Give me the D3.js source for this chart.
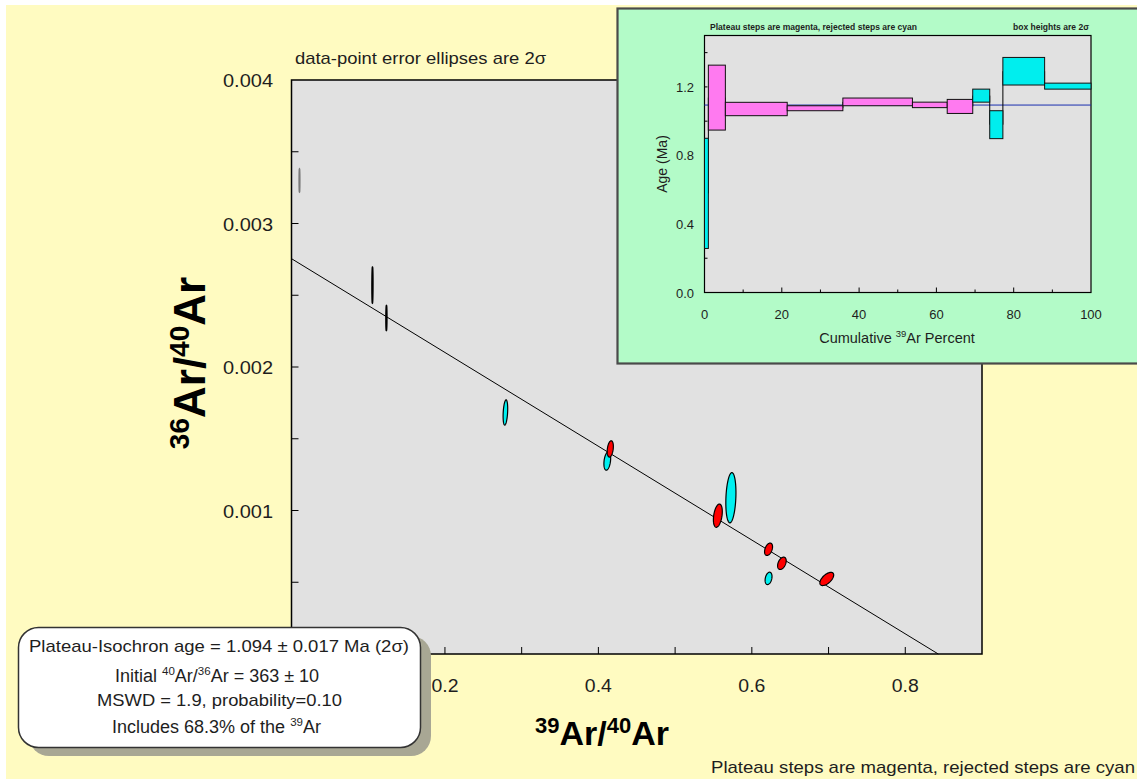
<!DOCTYPE html>
<html><head><meta charset="utf-8">
<script src="https://cdn.jsdelivr.net/npm/d3@7"></script>
<style>
html,body{margin:0;padding:0;background:#fff;}
svg text{font-family:Arial,"Liberation Sans",sans-serif;}
</style></head>
<body>
<svg id="c" width="1137" height="779"></svg>
<script>
// ---------- Isochron data (39Ar/40Ar, 36Ar/40Ar, 2σ half-widths, error correlation, status) ----------
const ptX    = [0.0104, 0.1055, 0.1237, 0.2788, 0.4116, 0.4155, 0.5557, 0.5727, 0.6218, 0.6392, 0.6218, 0.6977];
const ptY    = [0.00330, 0.002571, 0.002341, 0.001683, 0.001345, 0.001429, 0.000964, 0.001089, 0.000730, 0.000632, 0.000527, 0.000523];
const ptSx   = [0.0004, 0.0006, 0.0006, 0.0030, 0.0044, 0.0040, 0.0058, 0.0066, 0.0052, 0.0056, 0.0045, 0.0090];
const ptSy   = [0.000080, 0.000125, 0.000087, 0.000088, 0.000064, 0.000057, 0.000081, 0.000175, 0.000043, 0.000043, 0.000043, 0.000046];
const ptRho  = [0.0, 0.1, 0.1, 0.3, 0.3, 0.3, 0.35, 0.2, 0.4, 0.4, 0.3, 0.6];
const ptKind = ["gray", "black", "black", "rejected", "rejected", "plateau", "plateau", "rejected", "plateau", "plateau", "rejected", "plateau"];
const isoIntercept = 1 / 363;     // 36Ar/40Ar at x = 0
const isoXIntercept = 0.843;      // 39Ar/40Ar at y = 0
const mainXTicks = [0.2, 0.4, 0.6, 0.8];
const mainYTicks = [0.001, 0.002, 0.003, 0.004];

// ---------- Age spectrum data (cumulative 39Ar %, age low/high in Ma) ----------
const stepFrom = [0, 1.0, 5.4, 21.4, 35.8, 53.8, 62.8, 69.4, 73.8, 77.2, 88.0];
const stepTo   = [1.0, 5.4, 21.4, 35.8, 53.8, 62.8, 69.4, 73.8, 77.2, 88.0, 100];
const stepLo   = [0.257, 0.948, 1.032, 1.061, 1.090, 1.079, 1.045, 1.111, 0.898, 1.211, 1.187];
const stepHi   = [0.900, 1.327, 1.110, 1.090, 1.135, 1.111, 1.127, 1.187, 1.061, 1.372, 1.222];
const stepPlateau = [false, true, true, true, true, true, true, false, false, false, false];
const plateauAge = 1.094;
const insetXTicks = [0, 20, 40, 60, 80, 100];
const insetYTicks = [0.0, 0.4, 0.8, 1.2];

const svg = d3.select("#c");
const YELLOW = "#FFFBC1", GREEN = "#B3FBC8", GRAYBG = "#E1E1E1", TXT = "#1e1e1e";

// page background
svg.append("rect").attr("x", 6).attr("y", 5).attr("width", 1131).attr("height", 774).attr("fill", YELLOW);

// ---------- main plot ----------
const M = {l: 291.5, r: 982, t: 80, b: 654};
const x = d3.scaleLinear().domain([0, 0.9]).range([M.l, M.r]);
const y = d3.scaleLinear().domain([0, 0.004]).range([M.b, M.t]);

svg.append("rect").attr("x", M.l).attr("y", M.t).attr("width", M.r - M.l).attr("height", M.b - M.t)
  .attr("fill", GRAYBG).attr("stroke", "#000").attr("stroke-width", 1.5);

// ticks
const gx = svg.append("g");
d3.range(0.1, 0.9, 0.1).forEach(v => {
  gx.append("line").attr("x1", x(v)).attr("x2", x(v)).attr("y1", M.b).attr("y2", M.b - 7).attr("stroke", "#000");
});
mainXTicks.forEach(v => {
  gx.append("text").attr("x", x(v)).attr("y", 692).attr("text-anchor", "middle")
    .attr("font-size", 18).attr("fill", TXT).attr("textLength", 27).attr("lengthAdjust", "spacingAndGlyphs")
    .text(d3.format(".1f")(v));
});
const gy = svg.append("g");
d3.range(0.0005, 0.004, 0.0005).forEach(v => {
  gy.append("line").attr("x1", M.l).attr("x2", M.l + 7).attr("y1", y(v)).attr("y2", y(v)).attr("stroke", "#000");
});
mainYTicks.forEach(v => {
  gy.append("text").attr("x", 273).attr("y", y(v) + 7).attr("text-anchor", "end")
    .attr("font-size", 18).attr("fill", TXT).attr("textLength", 50).attr("lengthAdjust", "spacingAndGlyphs")
    .text(d3.format(".3f")(v));
});

// isochron line
svg.append("line").attr("x1", x(0)).attr("y1", y(isoIntercept)).attr("x2", x(isoXIntercept)).attr("y2", y(0))
  .attr("stroke", "#000").attr("stroke-width", 1);

// error ellipses
const fillFor = k => k === "plateau" ? "#FF0000" : k === "rejected" ? "#00F0F0" : "none";
const strokeFor = k => k === "gray" ? "#7a7a7a" : "#000";
ptX.forEach((cx, i) => {
  const pts = d3.range(0, 2 * Math.PI + 0.001, Math.PI / 40).map(t => {
    const r = ptRho[i];
    const dx = ptSx[i] * Math.cos(t);
    const dy = ptSy[i] * (r * Math.cos(t) + Math.sqrt(1 - r * r) * Math.sin(t));
    return [x(cx + dx), y(ptY[i] + dy)];
  });
  svg.append("path").attr("d", d3.line()(pts) + "Z")
    .attr("fill", fillFor(ptKind[i]))
    .attr("stroke", strokeFor(ptKind[i]))
    .attr("stroke-width", (ptKind[i] === "black" || ptKind[i] === "gray") ? 1.6 : 1.2);
});

// titles
svg.append("text").attr("x", 295).attr("y", 64).attr("font-size", 17).attr("fill", TXT)
  .attr("textLength", 251).attr("lengthAdjust", "spacingAndGlyphs")
  .text("data-point error ellipses are 2σ");

const yl = svg.append("text").attr("transform", "translate(205,363) rotate(-90)").attr("text-anchor", "middle")
  .attr("font-size", 44).attr("font-weight", "bold").attr("fill", "#000");
yl.append("tspan").attr("font-size", 28).attr("dy", -16).text("36");
yl.append("tspan").attr("dy", 16).text("Ar/");
yl.append("tspan").attr("font-size", 28).attr("dy", -16).text("40");
yl.append("tspan").attr("dy", 16).text("Ar");

const xl = svg.append("text").attr("x", 602).attr("y", 745).attr("text-anchor", "middle")
  .attr("font-size", 34).attr("font-weight", "bold").attr("fill", "#000");
xl.append("tspan").attr("font-size", 22).attr("dy", -12).text("39");
xl.append("tspan").attr("dy", 12).text("Ar/");
xl.append("tspan").attr("font-size", 22).attr("dy", -12).text("40");
xl.append("tspan").attr("dy", 12).text("Ar");

svg.append("text").attr("x", 1135).attr("y", 773).attr("text-anchor", "end").attr("font-size", 17).attr("fill", TXT)
  .attr("textLength", 424).attr("lengthAdjust", "spacingAndGlyphs")
  .text("Plateau steps are magenta, rejected steps are cyan");

// result box
svg.append("rect").attr("x", 29).attr("y", 636).attr("width", 402).attr("height", 120).attr("rx", 20)
  .attr("fill", "#A8A794");
svg.append("rect").attr("x", 18.5).attr("y", 627.5).attr("width", 402).attr("height", 120).attr("rx", 20)
  .attr("fill", "#fff").attr("stroke", "#333").attr("stroke-width", 1.5);
svg.append("text").attr("x", 29).attr("y", 652).attr("font-size", 17).attr("fill", TXT)
  .attr("textLength", 380).attr("lengthAdjust", "spacingAndGlyphs")
  .text("Plateau-Isochron age = 1.094 ± 0.017 Ma  (2σ)");
const t2 = svg.append("text").attr("x", 115).attr("y", 682).attr("font-size", 18).attr("fill", TXT);
t2.append("tspan").text("Initial ");
t2.append("tspan").attr("font-size", 11.5).attr("dy", -7).text("40");
t2.append("tspan").attr("dy", 7).text("Ar/");
t2.append("tspan").attr("font-size", 11.5).attr("dy", -7).text("36");
t2.append("tspan").attr("dy", 7).text("Ar = 363 ± 10");
svg.append("text").attr("x", 97).attr("y", 706).attr("font-size", 17).attr("fill", TXT)
  .attr("textLength", 245).attr("lengthAdjust", "spacingAndGlyphs")
  .text("MSWD = 1.9, probability=0.10");
const t4 = svg.append("text").attr("x", 112).attr("y", 733).attr("font-size", 18).attr("fill", TXT);
t4.append("tspan").text("Includes 68.3% of the ");
t4.append("tspan").attr("font-size", 11.5).attr("dy", -7).text("39");
t4.append("tspan").attr("dy", 7).text("Ar");

// ---------- inset age spectrum ----------
svg.append("rect").attr("x", 617.5).attr("y", 8.5).attr("width", 522).attr("height", 355)
  .attr("fill", GREEN).attr("stroke", "#4a4a4a").attr("stroke-width", 2.2);
const I = {l: 704.5, r: 1091, t: 35.5, b: 292.5};
const ix = d3.scaleLinear().domain([0, 100]).range([I.l, I.r]);
const iy = d3.scaleLinear().domain([0, 1.5]).range([I.b, I.t]);
svg.append("rect").attr("x", I.l).attr("y", I.t).attr("width", I.r - I.l).attr("height", I.b - I.t)
  .attr("fill", GRAYBG).attr("stroke", "#000").attr("stroke-width", 1.2);
d3.range(10, 100, 10).forEach(v => {
  svg.append("line").attr("x1", ix(v)).attr("x2", ix(v)).attr("y1", I.b).attr("y2", I.b - (v % 20 === 0 ? 5 : 3)).attr("stroke", "#000");
});
insetXTicks.forEach(v => {
  svg.append("text").attr("x", ix(v)).attr("y", I.b + 26).attr("text-anchor", "middle").attr("font-size", 13).attr("fill", TXT).text(v);
});
d3.range(0.2, 1.5, 0.2).forEach(v => {
  svg.append("line").attr("x1", I.l).attr("x2", I.l + 3).attr("y1", iy(v)).attr("y2", iy(v)).attr("stroke", "#000");
});
insetYTicks.forEach(v => {
  svg.append("text").attr("x", 694).attr("y", iy(v) + 5).attr("text-anchor", "end").attr("font-size", 13).attr("fill", TXT).text(d3.format(".1f")(v));
});
// plateau line
svg.append("line").attr("x1", I.l).attr("x2", I.r).attr("y1", iy(plateauAge)).attr("y2", iy(plateauAge)).attr("stroke", "#1a2fb0").attr("stroke-width", 1);
// connecting lines between step midpoints
for (let i = 1; i < stepFrom.length; i++) {
  svg.append("line").attr("x1", ix(stepFrom[i])).attr("x2", ix(stepFrom[i]))
    .attr("y1", iy((stepLo[i - 1] + stepHi[i - 1]) / 2)).attr("y2", iy((stepLo[i] + stepHi[i]) / 2))
    .attr("stroke", "#000").attr("stroke-width", 1);
}
stepFrom.forEach((f, i) => {
  svg.append("rect").attr("x", ix(f)).attr("y", iy(stepHi[i])).attr("width", ix(stepTo[i]) - ix(f))
    .attr("height", iy(stepLo[i]) - iy(stepHi[i]))
    .attr("fill", stepPlateau[i] ? "#FF7AF0" : "#00EEEE").attr("stroke", "#111").attr("stroke-width", 1);
});
svg.append("text").attr("x", 710).attr("y", 29.5).attr("font-size", 8.5).attr("font-weight", "bold").attr("fill", TXT)
  .attr("textLength", 207).attr("lengthAdjust", "spacingAndGlyphs")
  .text("Plateau steps are magenta, rejected steps are cyan");
svg.append("text").attr("x", 1013).attr("y", 29.5).attr("font-size", 8.5).attr("font-weight", "bold").attr("fill", TXT)
  .attr("textLength", 76).attr("lengthAdjust", "spacingAndGlyphs")
  .text("box heights are 2σ");
svg.append("text").attr("transform", "translate(667,164) rotate(-90)").attr("text-anchor", "middle").attr("font-size", 14).attr("fill", TXT)
  .text("Age (Ma)");
const ixl = svg.append("text").attr("x", 897).attr("y", 343).attr("text-anchor", "middle").attr("font-size", 14.5).attr("fill", TXT);
ixl.append("tspan").text("Cumulative ");
ixl.append("tspan").attr("font-size", 9.5).attr("dy", -6).text("39");
ixl.append("tspan").attr("dy", 6).text("Ar Percent");
</script>
</body></html>
